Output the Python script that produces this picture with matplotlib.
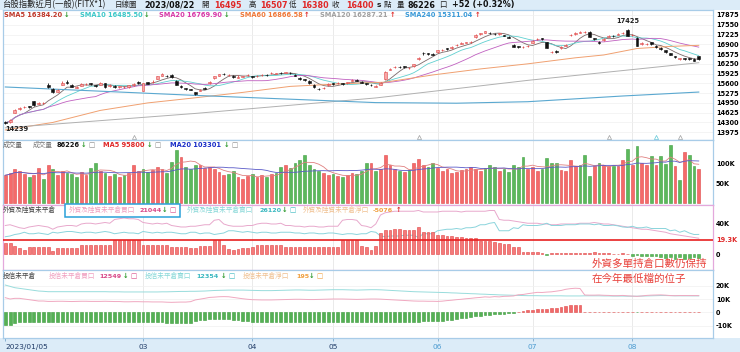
import numpy as np
import pandas as pd
import matplotlib
matplotlib.use("Agg")
import matplotlib.pyplot as plt
from matplotlib.patches import Rectangle

# ── 資料 ──────────────────────────────────────────────────────────────
price_open = [14330,14300,14620,14760,14800,14840,15000,14920,14950,15560,
              15420,15320,15560,15640,15560,15450,15520,15570,15600,15530,
              15560,15600,15500,15510,15480,15470,15480,15540,15650,15360,
              15640,15640,15760,15850,15850,15880,15680,15510,15430,15400,
              15300,15360,15460,15600,15780,15860,15920,15870,15860,15790,
              15820,15870,15830,15830,15870,15880,15930,15920,15950,15950,
              15950,15880,15790,15740,15680,15560,15420,15430,15540,15600,
              15600,15600,15610,15690,15720,15650,15600,15560,15490,15560,
              15740,16060,16140,16150,16160,16100,16180,16400,16620,16600,
              16580,16640,16700,16760,16780,16860,16920,16950,16980,17140,
              17240,17280,17280,17250,17240,17200,17140,16880,16830,16800,
              16830,16950,17060,17100,16960,16640,16680,16770,16850,17200,
              17240,17280,17300,17320,17100,16980,17040,17150,17190,17220,
              17260,17380,17200,17120,16900,16900,16970,16840,16780,16700,
              16600,16500,16400,16440,16430,16420,16495]
price_close = [14290,14380,14720,14790,14830,14800,14880,14960,14960,15470,
               15300,15380,15610,15600,15490,15470,15580,15590,15570,15510,
               15620,15480,15550,15470,15500,15490,15530,15590,15610,15600,
               15590,15660,15830,15900,15840,15800,15560,15480,15400,15390,
               15260,15390,15420,15660,15830,15900,15910,15880,15800,15810,
               15830,15890,15810,15850,15890,15870,15950,15940,15940,15960,
               15930,15850,15750,15700,15600,15470,15410,15460,15580,15580,
               15620,15580,15630,15720,15690,15620,15580,15545,15510,15620,
               15990,16090,16160,16140,16150,16110,16230,16460,16600,16580,
               16560,16700,16720,16750,16810,16890,16950,16960,16990,17220,
               17260,17330,17270,17240,17260,17180,17120,16820,16810,16820,
               16850,17000,17090,17060,16790,16660,16640,16820,16880,17210,
               17270,17320,17310,17150,17080,16940,17080,17180,17170,17250,
               17280,17190,17210,16850,16940,16920,16900,16800,16740,16640,
               16550,16480,16440,16420,16400,16348,16400]
price_high = [14360,14400,14760,14820,14860,14860,15020,14990,14990,15600,
              15440,15400,15680,15700,15580,15500,15600,15620,15620,15560,
              15640,15610,15570,15530,15520,15510,15560,15620,15680,15620,
              15660,15700,15850,15930,15880,15900,15700,15530,15450,15420,
              15320,15410,15480,15680,15860,15920,15950,15910,15880,15870,
              15850,15920,15850,15870,15910,15900,15970,15960,15970,15990,
              15970,15900,15800,15760,15700,15580,15450,15480,15600,15620,
              15650,15620,15650,15740,15740,15670,15620,15580,15540,15640,
              16000,16120,16190,16180,16190,16140,16260,16480,16650,16620,
              16600,16720,16750,16780,16840,16920,16980,16990,17010,17240,
              17280,17350,17320,17280,17280,17220,17160,16900,16850,16850,
              16870,17030,17110,17120,16980,16690,16700,16840,16900,17250,
              17300,17340,17330,17340,17120,17000,17100,17200,17210,17270,
              17300,17425,17240,17140,16960,16950,16990,16860,16800,16720,
              16620,16520,16460,16460,16440,16440,16507]
price_low = [14239,14280,14600,14730,14780,14770,14860,14900,14930,15440,
             15280,15300,15540,15580,15470,15430,15500,15550,15540,15490,
             15540,15460,15480,15450,15450,15440,15460,15520,15590,15340,
             15570,15620,15740,15830,15800,15780,15540,15440,15380,15370,
             15220,15340,15400,15580,15760,15840,15890,15850,15780,15780,
             15800,15850,15790,15820,15860,15850,15910,15900,15920,15930,
             15910,15830,15720,15680,15590,15460,15380,15400,15520,15560,
             15580,15560,15590,15670,15670,15600,15560,15520,15470,15540,
             15720,16040,16120,16120,16120,16080,16160,16380,16560,16560,
             16530,16620,16680,16700,16760,16840,16900,16930,16950,17120,
             17220,17260,17250,17220,17220,17160,17100,16800,16780,16780,
             16810,16930,17040,17040,16770,16620,16620,16750,16830,17180,
             17220,17260,17280,17130,17050,16910,17020,17130,17150,17200,
             17240,17180,17180,16830,16880,16880,16880,16780,16720,16620,
             16530,16460,16380,16390,16380,16330,16380]

# 長天期均線 (讀圖取樣點)
sma60_idx = [0, 10, 20, 30, 40, 50, 60, 70, 80, 90, 100, 110, 120, 126, 133, 140, 146]
sma60_val = [14050, 14300, 14700, 14950, 15120, 15300, 15500, 15580, 15640, 15880,
             16080, 16250, 16450, 16545, 16760, 16830, 16866]
sma120_idx = [0, 40, 78, 110, 146]
sma120_val = [14120, 14600, 15115, 15700, 16287]
sma240_idx = [0, 40, 78, 95, 110, 130, 146]
sma240_val = [15480, 15200, 14960, 14940, 14990, 15180, 15311]

volume_k = [70,75,85,80,72,65,70,88,60,95,
            85,70,80,75,72,65,78,70,88,100,
            80,75,68,72,65,70,75,95,80,85,
            78,82,90,85,75,103,133,116,90,85,
            95,95,88,90,85,78,70,72,80,65,
            60,68,72,65,70,66,72,75,90,95,
            88,100,108,120,95,85,80,75,70,72,
            68,65,70,75,72,80,100,100,80,85,
            120,95,85,80,78,82,100,110,95,90,
            100,88,80,85,75,78,82,85,90,85,
            80,88,95,90,80,85,78,95,90,116,
            85,90,80,85,113,100,100,83,81,108,
            93,96,121,68,92,100,96,93,93,93,
            108,135,96,142,100,96,118,96,118,99,
            146,92,58,129,121,93,86.2]
volume_dir = ("RRRRRGRRGR" "GRRGGGRRGG" "RGRGRGRRRG" "GRRRGGGRGG" "GRRRRRRGGR"
              "RRGRRGRGGR" "GGGGGGGRRG" "RGRRGGGRGR" "RRRGRGRRRG" "GRRRRRRRRR"
              "RGGGRGGGGG" "RRRGGGG" "RRRRGGGRGR" "RGRRGRGRRG" "RGGGRGRGGR")

foreign_long = [38,39,37,35,34,36,37,38,37,36,
                33,36,37,38,38,37,40,41,41,40,
                41,42,41,46,47,48,47,47,46,42,
                41,40,41,40,41,38,37,36,36,37,
                37,38,39,39,45,46,40,38,37,37,
                37,38,38,40,41,41,40,40,41,38,
                38,37,37,36,37,37,36,36,37,37,
                37,45,46,46,45,38,37,35,40,52,
                55,56,57,57,57,57,57,58,56,56,
                56,56,57,57,57,57,56,57,57,57,
                57,57,58,58,46,45,45,44,43,42,
                41,41,41,40,40,39,39,40,40,40,
                40,41,41,41,42,41,40,40,39,38,
                37,36,35,34,33,33,32,31,30,29,
                27,26,25,24,23,22,21.044]
foreign_net = [15,15,11,8,5,9,10,10,10,10,
               4,8,8,8,8,8,12,12,12,12,
               12,12,12,19,19,19,19,19,19,12,
               12,12,12,12,12,9,9,9,9,8,
               8,11,11,11,19,19,12,7,6,7,
               8,8,9,12,12,12,12,12,12,9,
               9,9,9,9,9,9,9,9,9,9,
               10,19,19,19,19,11,10,5,11,28,
               32,32,33,33,32,32,32,36,29,29,
               29,25,25,24,24,23,23,22,22,21,
               18,18,17,16,15,14,14,9,9,3,
               3,3,3,1,-1,1,1,2,1,1,
               1,1,1,1,3,1,2,2,0.5,0.5,
               1,0.5,-2,-1,-2,-3,-2,-3,-4,-5,
               -4,-6,-4,-7,-5,-4,-5.076]

trust_short = [20.5,19.5,18.5,18,17.5,17,16.5,16,15.8,15.5,
               15.5,15.5,15.5,15.5,15.5,15.5,15.5,15.5,15.5,15.5,
               15.5,15.5,15.4,15.4,15.4,15.3,15.3,15.3,15.3,15.3,
               15.3,15.3,15.3,15.4,15.4,15.5,15.6,15.7,15.7,15.8,
               15.8,15.9,16,16.2,16.4,16.5,16.6,16.7,16.7,16.7,
               16.7,16.6,16.5,16.4,16.3,16.3,16.3,16.4,16.5,16.6,
               16.7,16.8,16.8,16.7,16.6,16.6,16.7,16.8,16.9,17.0,
               17.0,17.0,16.9,16.8,16.7,16.8,16.9,17.0,17.0,16.9,
               16.7,16.5,16.3,16.1,15.9,15.7,15.5,15.4,15.3,15.2,
               15.1,15.0,14.9,14.8,14.6,14.5,14.3,14.2,14.0,13.9,
               13.7,13.6,13.4,13.3,13.1,13.0,12.9,12.8,12.7,12.6,
               12.5,12.5,12.5,12.4,12.4,12.4,12.4,12.4,12.3,12.3,
               12.3,12.3,12.4,12.4,12.4,12.4,12.3,12.3,12.2,12.2,
               12.2,12.1,12.1,12.1,12.2,12.3,12.4,12.5,12.6,12.6,
               12.5,12.4,12.4,12.4,12.35,12.35,12.354]
trust_net = [-9.5,-9.5,-8,-7.5,-7.5,-7.5,-7.5,-7.5,-7.3,-7.3,
             -7.3,-7.2,-7.2,-7.3,-7.4,-7.3,-7.2,-7.2,-7.3,-7.3,
             -7.3,-7.2,-7.2,-7.3,-7.3,-7.4,-7.4,-7.3,-7.3,-7.4,
             -7.4,-7.5,-7.5,-7.6,-7.8,-8,-8,-8,-8,-7.8,
             -6.5,-6,-5.5,-5,-5,-4.8,-4.8,-5,-5.5,-6,
             -6.5,-6.8,-7,-7,-7,-7,-7,-7,-7,-7,
             -7,-7,-7,-7,-7,-7,-7,-7,-7,-7,
             -7,-7,-7,-7,-7,-7,-7,-7,-7,-7,
             -7,-7,-7,-7,-7,-7,-7,-7,-6.9,-6.9,
             -6.8,-6.8,-6.5,-6,-5.5,-5,-4.5,-4,-3.5,-3,
             -2.5,-2,-2,-1.5,-1.5,-1,-0.8,-0.5,0.5,0.8,
             1.5,2,2.5,2.5,2.8,3,3.5,4,5,5.5,
             5.8,5.6,0.6,0.5,0.5,0.6,0.5,0.4,0.3,0.3,
             0.5,0.3,0.1,-0.1,0.1,0.4,0.5,0.5,0.5,0.3,
             0.1,0.1,0.2,0.2,0.2,0.2,0.195]

month_idx = [0, 29, 52, 69, 91, 111, 132]
month_lbl = ["2023/01/05", "03", "04", "05", "06", "07", "08"]
price_ticks = list(range(13975, 17876, 325))
event_idx = [27, 87, 127, 137, 142]

# ── 版面 ──────────────────────────────────────────────────────────────
W, H = 740, 352
CJK = ["Noto Sans CJK TC", "DejaVu Sans"]
RED, GREEN = "#e02828", "#2e9a2e"

fig = plt.figure(figsize=(W / 100, H / 100), dpi=100, facecolor="#dcecf8")
fig.add_artist(Rectangle((0, 1 - 338 / H), 1, 328 / H, transform=fig.transFigure,
                         facecolor="white", edgecolor="none", zorder=-5))


def panel(top, bottom, edge="#a8cce8"):
    ax = fig.add_axes([3 / W, 1 - bottom / H, 710 / W, (bottom - top) / H])
    ax.set_xlim(-0.48, 149.0)
    ax.set_facecolor("white")
    for s in ax.spines.values():
        s.set_color(edge)
        s.set_linewidth(0.9)
    ax.yaxis.tick_right()
    ax.tick_params(axis="y", length=0, pad=2, labelsize=4.7)
    ax.tick_params(axis="x", length=0, labelbottom=False)
    for m in month_idx[1:]:
        ax.axvline(m, color="#e6e6e6", lw=0.6, zorder=0)
    return ax


def bold_labels(ax):
    for t in ax.get_yticklabels():
        t.set_fontweight("bold")


def put(x, y, s, color="#222222", size=4.8, bold=False, cjk=False):
    fig.text(x / W, 1 - y / H, s, color=color, fontsize=size,
             fontweight="bold" if bold else "normal",
             family=CJK if cjk else ["DejaVu Sans"], ha="left", va="center")


idx = np.arange(len(price_close))
o = np.array(price_open, float)
c = np.array(price_close, float)
up = c >= o

# ── K 線 ──────────────────────────────────────────────────────────────
ax_p = panel(10, 140)
ax_p.set_ylim(13716, 18041)
ax_p.set_yticks(price_ticks)
bold_labels(ax_p)
for p in price_ticks:
    ax_p.axhline(p, color="#f0f0f0", lw=0.5, zorder=0)

ax_p.vlines(idx, price_low, price_high, colors=np.where(up, "#e04848", "#111111"),
            lw=0.6, zorder=3)
body = np.maximum(np.abs(c - o), 12)
ax_p.bar(idx, body, bottom=np.minimum(o, c), width=0.62, zorder=4,
         color=np.where(up, "#f7a6a6", "#111111"),
         edgecolor=np.where(up, "#e04848", "#111111"), linewidth=0.4)

close_s = pd.Series(price_close, dtype=float)
ax_p.plot(idx, close_s.rolling(5, min_periods=1).mean(), color="#7a6a6a", lw=0.6, zorder=2)
ax_p.plot(idx, close_s.rolling(10, min_periods=1).mean(), color="#5fd0d0", lw=0.6, zorder=2)
ax_p.plot(idx, close_s.rolling(20, min_periods=1).mean(), color="#c060c0", lw=0.6, zorder=2)
ax_p.plot(sma60_idx, sma60_val, color="#f0a070", lw=0.7, zorder=2)
ax_p.plot(sma120_idx, sma120_val, color="#b0b0b0", lw=0.7, zorder=2)
ax_p.plot(sma240_idx, sma240_val, color="#5aa8d0", lw=0.8, zorder=2)

ax_p.annotate("17425", (131, 17425), xytext=(0, 3), textcoords="offset points",
              ha="center", va="bottom", fontsize=4.8, fontweight="bold", color="#222")
ax_p.annotate("14239", (0, 14239), xytext=(0, -1.5), textcoords="offset points",
              ha="left", va="top", fontsize=4.8, fontweight="bold", color="#222")
for k, e in enumerate(event_idx):
    ax_p.plot(e, 13800, marker="^", ms=3, mfc="none", mew=0.5,
              color="#60c8d8" if k == 3 else "#a0a0a0")

# ── 成交量 ────────────────────────────────────────────────────────────
ax_v = panel(140, 205)
ax_v.set_ylim(-4.25, 158)
ax_v.set_yticks([50, 100], ["50K", "100K"])
bold_labels(ax_v)
vol_up = np.array([d == "R" for d in volume_dir])
ax_v.bar(idx, volume_k, width=0.62, color=np.where(vol_up, "#f46a6a", "#5cb85c"),
         edgecolor=np.where(vol_up, "#e04848", "#3f9f3f"), linewidth=0.4, zorder=2)
vol_s = pd.Series(volume_k, dtype=float)
ax_v.plot(idx, vol_s.rolling(5, min_periods=1).mean(), color="#e08080", lw=0.6, zorder=3)
ax_v.plot(idx, vol_s.rolling(20, min_periods=1).mean(), color="#5a5ac8", lw=0.6, zorder=3)

# ── 外資未平倉 ────────────────────────────────────────────────────────
ax_f = panel(205, 270, edge="#e4a8dc")
ax_f.set_ylim(-21.3, 65.3)
ax_f.set_yticks([0, 19.3, 40], ["0", "19.3K", "40K"])
bold_labels(ax_f)
ax_f.get_yticklabels()[1].set_color(RED)
f_long = np.array(foreign_long, float)
f_net = np.array(foreign_net, float)
ax_f.plot(idx, f_long, color="#e8a8cc", lw=0.7, zorder=2)
ax_f.plot(idx, f_long - f_net, color="#8ad4dc", lw=0.7, zorder=2)
ax_f.bar(idx, f_net, width=0.62, color=np.where(f_net >= 0, "#f47a7a", "#5cb85c"),
         edgecolor=np.where(f_net >= 0, "#e04040", "#3f9f3f"), linewidth=0.4, zorder=3)
ax_f.axhline(19.3, color="#e82020", lw=1.2, zorder=4)

# ── 投信未平倉 ────────────────────────────────────────────────────────
ax_t = panel(270, 338)
ax_t.set_ylim(-19.3, 31.8)
ax_t.set_yticks([-10, 0, 10, 20], ["-10K", "0", "10K", "20K"])
bold_labels(ax_t)
for g in [-10, 0, 10, 20]:
    ax_t.axhline(g, color="#f0f0f0", lw=0.5, zorder=0)
t_short = np.array(trust_short, float)
t_net = np.array(trust_net, float)
ax_t.plot(idx, t_short, color="#98dcdc", lw=0.7, zorder=2)
ax_t.plot(idx, t_short + t_net, color="#f0a8c0", lw=0.7, zorder=2)
ax_t.bar(idx, t_net, width=0.62, color=np.where(t_net >= 0, "#f06a6a", "#55b055"),
         edgecolor=np.where(t_net >= 0, "#e04848", "#3a9a3a"), linewidth=0.4, zorder=3)

ax_t.set_xticks(month_idx, month_lbl)
ax_t.tick_params(axis="x", length=2.5, width=0.6, color="#7aa8cc", pad=2,
                 labelbottom=True, labelsize=5.3)
for k, t in enumerate(ax_t.get_xticklabels()):
    t.set_color("#1f3a66" if k < 4 else "#4a9ad0")
    if k == 0:
        t.set_ha("left")

# ── 文字 ──────────────────────────────────────────────────────────────
put(2, 5, "台股指數近月(一般)(FITX*1)", size=6.0, cjk=True)
put(115, 5, "日線圖", size=5.4, cjk=True)
put(144, 5, "2023/08/22", size=5.8, bold=True, color="#111")
for x, ch, xv, v in [(201, "開", 214, "16495"), (249, "高", 260, "16507"),
                     (289, "低", 301, "16380"), (332, "收", 346, "16400")]:
    put(x, 5, ch, size=5.4, cjk=True)
    put(xv, 5, v, size=5.8, bold=True, color=RED)
put(377, 5, "s", size=5.4, bold=True)
put(384, 5, "點", size=5.4, cjk=True)
put(397, 5, "量", size=5.4, cjk=True)
put(408, 5, "86226", size=5.8, bold=True, color="#111")
put(439, 5, "口", size=5.4, cjk=True)
put(452, 5, "+52 (+0.32%)", size=5.8, bold=True, color="#111")

for x, s, col, xa, arrow in [(4, "SMA5 16384.20", "#c0392b", 64, "↓"),
                             (80, "SMA10 16485.50", "#3cc8c8", 144, "↓"),
                             (159, "SMA20 16769.90", "#d838a8", 224, "↓"),
                             (240, "SMA60 16866.58", "#f07838", 304, "↑"),
                             (320, "SMA120 16287.21", "#a0a0a0", 390, "↑"),
                             (405, "SMA240 15311.04", "#3a9ad8", 475, "↑")]:
    put(x, 15, s, color=col, bold=True)
    put(xa, 15, arrow, color=GREEN if arrow == "↓" else RED, bold=True)

put(3, 145, "成交量", color="#666", size=4.8, cjk=True)
put(33, 145, "成交量", color="#777", size=4.8, cjk=True)
put(57, 145, "86226", color="#111", bold=True)
put(81, 145, "↓", color=GREEN, bold=True)
put(88, 145, "□", color="#888")
put(103, 145, "MA5 95800", color=RED, bold=True)
put(147, 145, "↓", color=GREEN, bold=True)
put(154, 145, "□", color="#888")
put(170, 145, "MA20 103301", color="#1a2ec8", bold=True)
put(224, 145, "↓", color=GREEN, bold=True)
put(231, 145, "□", color="#888")

fig.add_artist(Rectangle((65 / W, 1 - 217 / H), 115 / W, 13 / H, transform=fig.transFigure,
                         facecolor="white", edgecolor="#2aa0d8", lw=1.1, zorder=2))
put(3, 210, "外資及陸資未平倉", color="#444", size=4.8, cjk=True)
put(69, 210, "外資及陸資未平倉買口", color="#f0a0c0", size=4.8, cjk=True)
put(139, 210, "21044", color="#d84888", size=4.6, bold=True)
put(162, 210, "↓", color=GREEN, bold=True)
put(169, 210, "□", color="#d84888")
put(187, 210, "外資及陸資未平倉賣口", color="#88d8d8", size=4.8, cjk=True)
put(259, 210, "26120", color="#3ab8c0", size=4.6, bold=True)
put(282, 210, "↓", color=GREEN, bold=True)
put(289, 210, "□", color="#3ab8c0")
put(303, 210, "外資及陸資未平倉淨口", color="#f0c090", size=4.8, cjk=True)
put(373, 210, "-5076", color="#f0a040", size=4.6, bold=True)
put(396, 210, "↑", color=RED, bold=True)

put(3, 276, "投信未平倉", color="#444", size=4.8, cjk=True)
put(49, 276, "投信未平倉買口", color="#f0a0c0", size=4.8, cjk=True)
put(99, 276, "12549", color="#d84888", size=4.6, bold=True)
put(123, 276, "↓", color=GREEN, bold=True)
put(130, 276, "□", color="#d84888")
put(145, 276, "投信未平倉賣口", color="#88d8d8", size=4.8, cjk=True)
put(196, 276, "12354", color="#3ab8c0", size=4.6, bold=True)
put(221, 276, "↓", color=GREEN, bold=True)
put(228, 276, "□", color="#3ab8c0")
put(243, 276, "投信未平倉淨口", color="#f0c090", size=4.8, cjk=True)
put(296, 276, "195", color="#f0a040", size=4.6, bold=True)
put(309, 276, "↓", color=GREEN, bold=True)
put(316, 276, "□", color="#f0a040")

put(592, 264, "外資多單持倉口數仍保持", color="#e8403a", size=7.6, cjk=True)
put(592, 279, "在今年最低檔的位子", color="#e8403a", size=7.6, cjk=True)

fig.savefig("out.png", dpi=100, facecolor=fig.get_facecolor())
